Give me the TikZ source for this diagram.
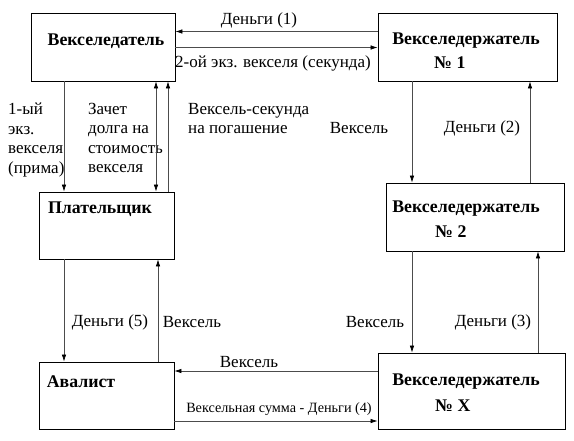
\documentclass[tikz,border=0pt]{standalone}
\usepackage{fontspec}
\setmainfont{Liberation Serif}
\usetikzlibrary{arrows.meta, positioning, calc}

\begin{document}
\begin{tikzpicture}[x=1pt, y=-1pt,
  box/.style={draw, line width=0.8pt, inner sep=0pt},
  title/.style={font=\fontsize{17.8}{22}\selectfont\bfseries, inner sep=0pt},
  lbl/.style={font=\fontsize{17}{19.5}\selectfont, inner sep=0pt, align=left},
  small/.style={font=\fontsize{14.2}{16}\selectfont, inner sep=0pt},
  flow/.style={draw=black!70, line width=0.7pt, -{Latex[black, length=7pt, width=4.5pt]}},
  both/.style={draw=black!70, line width=0.7pt, {Latex[black, length=7pt, width=4.5pt]}-{Latex[black, length=7pt, width=4.5pt]}}]
\useasboundingbox (0,0) rectangle (574,440);
% Boxes
\node[box, minimum width=144, minimum height=68] (vdat) at (103,47) {};
\node[box, minimum width=179, minimum height=68] (vd1) at (467.5,47) {};
\node[box, minimum width=135, minimum height=67] (plat) at (106.5,225.5) {};
\node[box, minimum width=135, minimum height=67] (aval) at (106.5,395.5) {};
\node[box, minimum width=178, minimum height=68] (vd2) at (475,217) {};
\node[box, minimum width=187, minimum height=76] (vdx) at (471.5,391) {};
% Box titles
\node[title] (tvdat) at (106,41) {Векселедатель};
\node[title] (tvd1) at (466,41) {Векселедержатель};
\node[title, anchor=west] (nvd1) at (434,63) {№ 1};
\node[title] (tvd2) at (466,209) {Векселедержатель};
\node[title, anchor=west] (nvd2) at (435,232) {№ 2};
\node[title] (tvdx) at (466,382) {Векселедержатель};
\node[title, anchor=west] (nvdx) at (435,406) {№ X};
\node[title] (tplat) at (100,209) {Плательщик};
\node[title] (taval) at (81,382) {Авалист};
% Labels
\node[lbl] (money1) at (259,20) {Деньги (1)};
\node[lbl] (second) at (273,63) {2-ой экз. векселя (секунда)};
\node[lbl, anchor=north west] (prima) at (8,103) {1-ый\\экз.\\векселя\\(прима)};
\node[lbl, anchor=north west] (offset) at (88,103) {Зачет\\долга на\\стоимость\\векселя};
\node[lbl, anchor=north west] (redeem) at (188,103) {Вексель-секунда\\на погашение};
\node[lbl] (bill12) at (359,128) {Вексель};
\node[lbl] (money2) at (482,128) {Деньги (2)};
\node[lbl] (money5) at (110,322) {Деньги (5)};
\node[lbl] (billpa) at (192,322) {Вексель};
\node[lbl] (billxa) at (249,362) {Вексель};
\node[small] (money4) at (279,409) {Вексельная сумма - Деньги (4)};
\node[lbl] (bill2x) at (375,322) {Вексель};
\node[lbl] (money3) at (493,322) {Деньги (3)};
% Connectors
\draw[flow] (vd1.west |- 0,31.5) -- (vdat.east |- 0,31.5);
\draw[flow] (vdat.east |- 0,47.5) -- (vd1.west |- 0,47.5);
\draw[flow] (vdat.south -| 64,0) -- (plat.north -| 64,0);
\draw[both] (vdat.south -| 156,0) -- (plat.north -| 156,0);
\draw[flow] (plat.north -| 168,0) -- (vdat.south -| 168,0);
\draw[flow] (plat.south -| 64,0) -- (aval.north -| 64,0);
\draw[flow] (aval.north -| 158,0) -- (plat.south -| 158,0);
\draw[flow] (vdx.west |- 0,371) -- (aval.east |- 0,371);
\draw[flow] (aval.east |- 0,421) -- (vdx.west |- 0,421);
\draw[flow] (vd1.south -| 412,0) -- (vd2.north -| 412,0);
\draw[flow] (vd2.north -| 530,0) -- (vd1.south -| 530,0);
\draw[flow] (vd2.south -| 412,0) -- (vdx.north -| 412,0);
\draw[flow] (vdx.north -| 538,0) -- (vd2.south -| 538,0);
\end{tikzpicture}
\end{document}
